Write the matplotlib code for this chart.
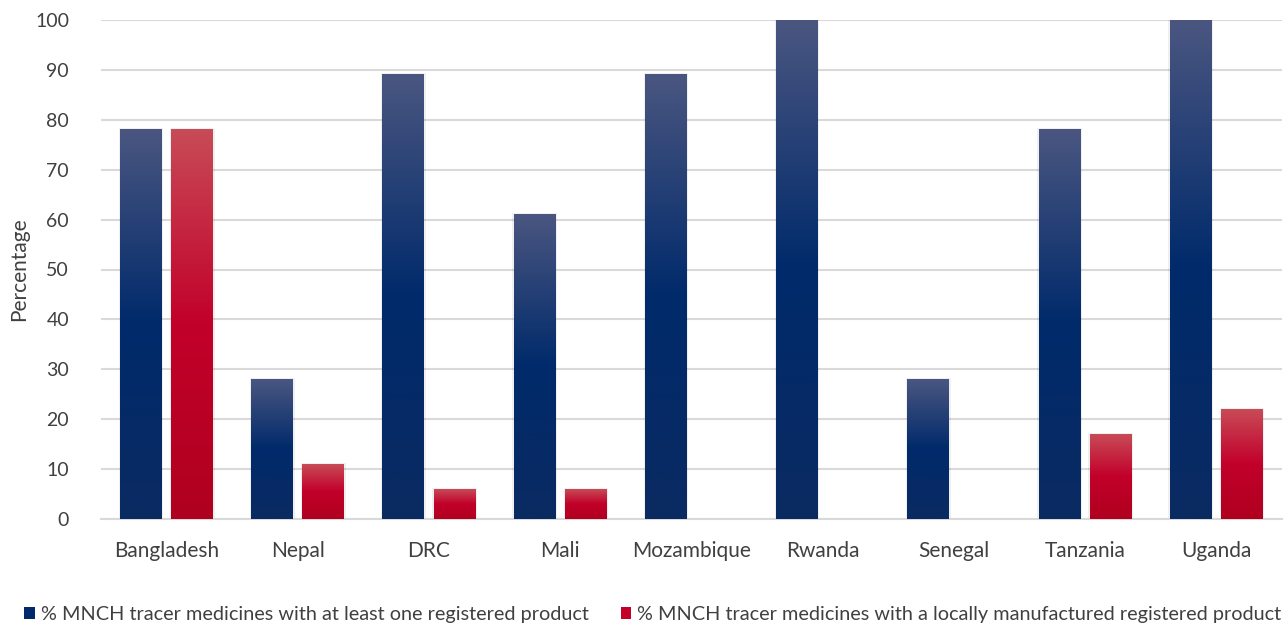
import numpy as np
import matplotlib
matplotlib.use("Agg")
import matplotlib.pyplot as plt
from matplotlib.colors import LinearSegmentedColormap
from matplotlib.patches import Rectangle, Patch

countries = ["Bangladesh", "Nepal", "DRC", "Mali", "Mozambique", "Rwanda", "Senegal", "Tanzania", "Uganda"]
registered = [78, 28, 89, 61, 89, 100, 28, 78, 100]
local = [78, 11, 6, 6, 0, 0, 0, 17, 22]
series_names = ["% MNCH tracer medicines with at least one registered product",
                "% MNCH tracer medicines with a locally manufactured registered product"]
yticks = [0, 10, 20, 30, 40, 50, 60, 70, 80, 90, 100]

plt.rcParams['font.family'] = ['Lato', 'DejaVu Sans']

fig = plt.figure(figsize=(12.85, 6.25), dpi=100)
ax = fig.add_axes([101/1285, 1-519/625, (1282-101)/1285, (519-20)/625])

blue_cmap = LinearSegmentedColormap.from_list("b", [(0, "#0b2a62"), (0.5, "#002a6b"), (1, "#4a5680")])
red_cmap = LinearSegmentedColormap.from_list("r", [(0, "#b0001f"), (0.5, "#c2002a"), (1, "#c84b57")])

x = np.arange(len(countries))
w = 0.32
off = 0.195

grad = np.linspace(0, 1, 256).reshape(-1, 1)

def draw_bars(xs, vals, cmap):
    for xi, v in zip(xs, vals):
        if v <= 0:
            continue
        ax.add_patch(Rectangle((xi - w/2 - 0.01, 0), w + 0.02, v + 0.3, facecolor="#000000",
                               alpha=0.06, edgecolor="none", zorder=2))
        ax.imshow(grad, cmap=cmap, extent=[xi - w/2, xi + w/2, 0, v], origin="lower",
                  aspect="auto", zorder=3, interpolation="bilinear")

draw_bars(x - off, registered, blue_cmap)
draw_bars(x + off, local, red_cmap)

ax.set_xlim(-0.5, len(countries) - 0.5)
ax.set_ylim(0, 100)
ax.set_yticks(yticks)
ax.set_xticks(x)
ax.set_xticklabels(countries, fontsize=15)
ax.grid(axis="y", color="#d9d9d9", linewidth=1.5, zorder=0)
ax.set_axisbelow(True)
for s in ["top", "right", "left"]:
    ax.spines[s].set_visible(False)
ax.spines["bottom"].set_color("#d9d9d9")
ax.spines["bottom"].set_linewidth(1.5)
ax.tick_params(axis="both", length=0, colors="#404040")
ax.tick_params(axis="x", pad=16)
ax.tick_params(axis="y", labelsize=14, pad=23)
ax.set_ylabel("Percentage", fontsize=15, color="#404040")
ax.yaxis.set_label_coords(-72/1181, 0.5)

handles = [Patch(facecolor="#002a6b"), Patch(facecolor="#c2002a")]
fig.legend(handles, series_names, loc="lower center", bbox_to_anchor=(0.508, -0.025), ncol=2,
           frameon=False, fontsize=14.3, labelcolor="#404040", handlelength=0.55, handleheight=0.55,
           handletextpad=0.3, columnspacing=1.6)

fig.savefig("out.png", dpi=100)
